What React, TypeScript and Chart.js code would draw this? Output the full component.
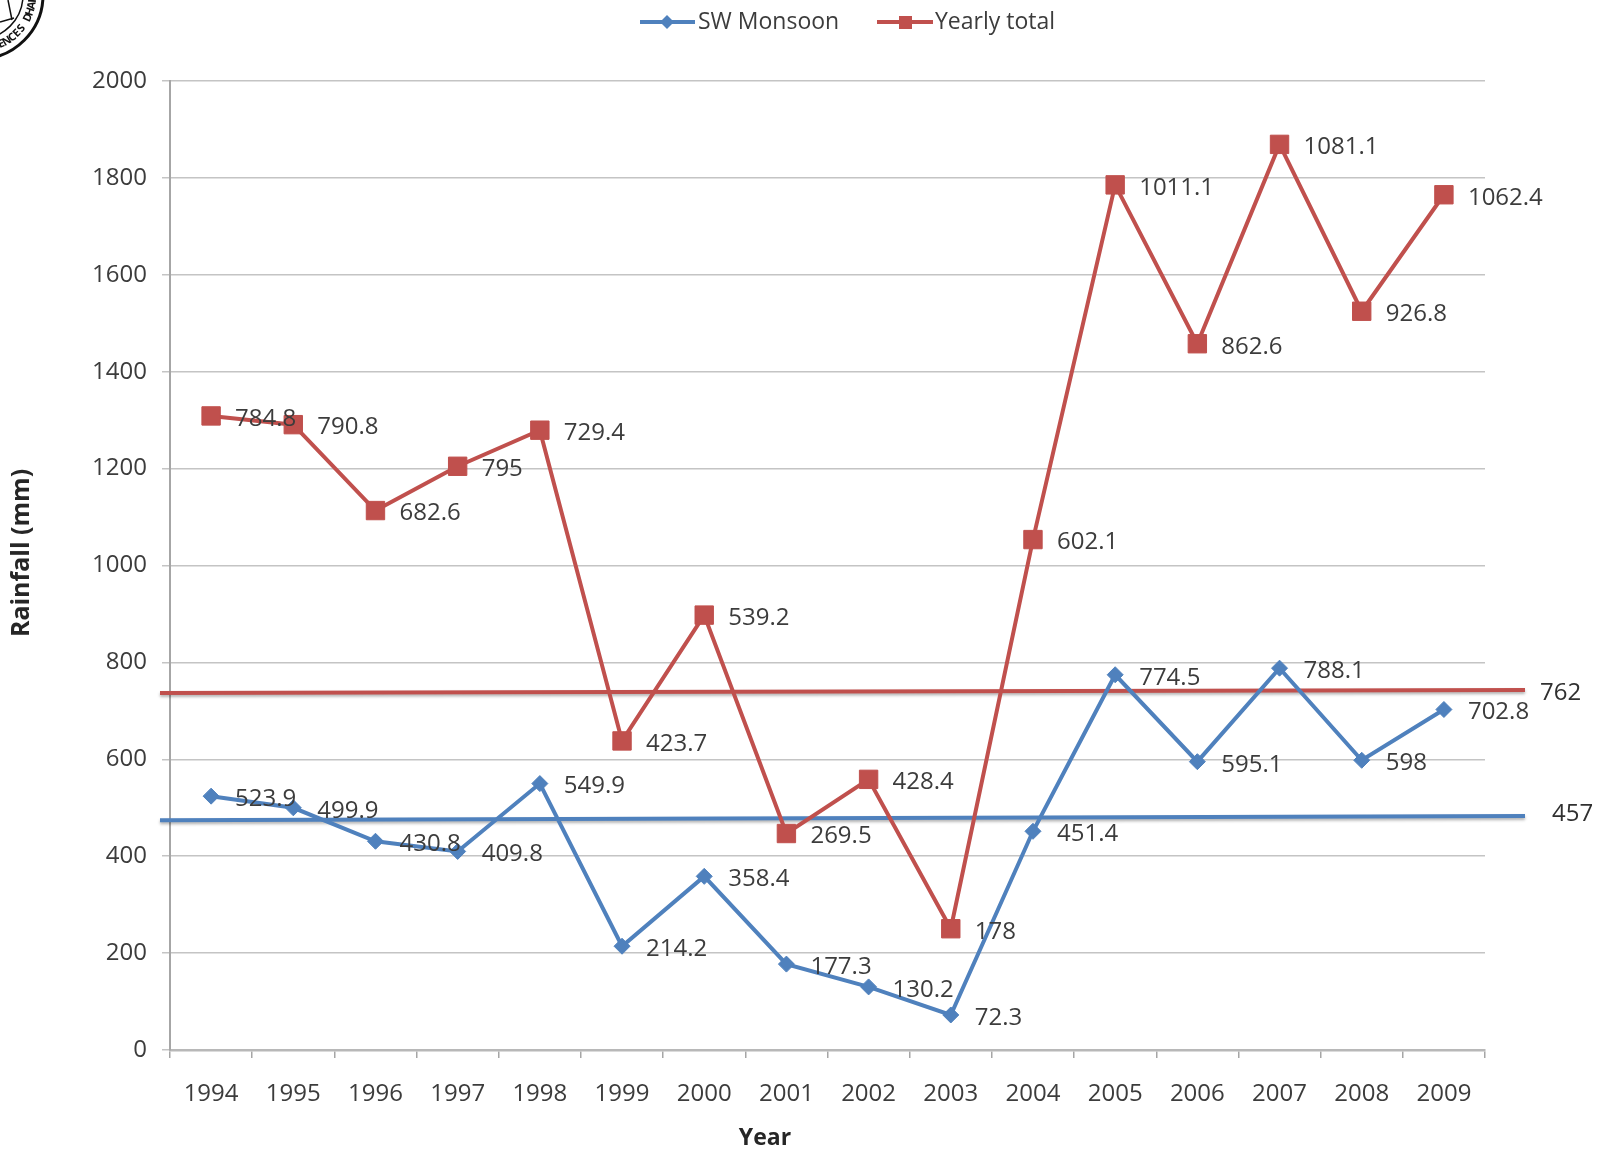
import React, { useEffect, useRef } from "react";
import { Chart, registerables } from "chart.js";

Chart.register(...registerables);

const years = ["1994", "1995", "1996", "1997", "1998", "1999", "2000", "2001", "2002", "2003", "2004", "2005", "2006", "2007", "2008", "2009"];
const swMonsoon = [523.9, 499.9, 430.8, 409.8, 549.9, 214.2, 358.4, 177.3, 130.2, 72.3, 451.4, 774.5, 595.1, 788.1, 598, 702.8];
const swLabels = ["523.9", "499.9", "430.8", "409.8", "549.9", "214.2", "358.4", "177.3", "130.2", "72.3", "451.4", "774.5", "595.1", "788.1", "598", "702.8"];
const yearlyTotal = [1308.7, 1290.7, 1113.4, 1204.8, 1279.3, 637.9, 897.6, 446.8, 558.6, 250.3, 1053.5, 1785.6, 1457.7, 1869.2, 1524.8, 1765.2];
const yearlyLabels = ["784.8", "790.8", "682.6", "795", "729.4", "423.7", "539.2", "269.5", "428.4", "178", "602.1", "1011.1", "862.6", "1081.1", "926.8", "1062.4"];
const meanRed = [737, 743];
const meanBlue = [474, 483];
const meanLabels = ["762", "457"];
const yTicks = [0, 200, 400, 600, 800, 1000, 1200, 1400, 1600, 1800, 2000];

const RED = "#C0504D";
const BLUE = "#4F81BD";
const TEXT = "#3c3c3c";
const FONT = "'Open Sans', sans-serif";

const overlayPlugin = {
  id: "overlay",
  beforeDatasetsDraw(chart: any) {
    const ctx = chart.ctx;
    const y = chart.scales.y;
    const lines = [
      { v: meanRed, c: RED, label: meanLabels[0], dx: 15, dy: 3 },
      { v: meanBlue, c: BLUE, label: meanLabels[1], dx: 27, dy: -2 },
    ];
    ctx.save();
    for (const l of lines) {
      const x0 = 160;
      const x1 = 1525;
      ctx.save();
      ctx.shadowColor = "rgba(0,0,0,0.3)";
      ctx.shadowOffsetY = 2;
      ctx.shadowBlur = 3;
      ctx.strokeStyle = l.c;
      ctx.lineWidth = 4;
      ctx.beginPath();
      ctx.moveTo(x0, y.getPixelForValue(l.v[0]));
      ctx.lineTo(x1, y.getPixelForValue(l.v[1]));
      ctx.stroke();
      ctx.restore();
      ctx.fillStyle = "#303030";
      ctx.font = `24px ${FONT}`;
      ctx.textAlign = "left";
      ctx.textBaseline = "middle";
      ctx.fillText(l.label, x1 + l.dx, y.getPixelForValue(l.v[1]) + l.dy);
    }
    ctx.restore();
  },
  afterDatasetsDraw(chart: any) {
    const ctx = chart.ctx;
    ctx.save();
    ctx.font = `24px ${FONT}`;
    ctx.fillStyle = TEXT;
    ctx.textAlign = "left";
    ctx.textBaseline = "middle";
    const sets = [swLabels, yearlyLabels];
    sets.forEach((labels, di) => {
      const meta = chart.getDatasetMeta(di);
      meta.data.forEach((pt: any, i: number) => {
        ctx.fillText(labels[i], pt.x + 24, pt.y + 3);
      });
    });
    ctx.restore();
  },
  afterDraw(chart: any) {
    const ctx = chart.ctx;
    ctx.save();
    // legend
    const ly = 22;
    ctx.lineWidth = 4;
    ctx.strokeStyle = BLUE;
    ctx.beginPath();
    ctx.moveTo(640, ly);
    ctx.lineTo(695, ly);
    ctx.stroke();
    ctx.fillStyle = BLUE;
    ctx.beginPath();
    ctx.moveTo(667, ly - 7);
    ctx.lineTo(674, ly);
    ctx.lineTo(667, ly + 7);
    ctx.lineTo(660, ly);
    ctx.closePath();
    ctx.fill();
    ctx.strokeStyle = RED;
    ctx.beginPath();
    ctx.moveTo(877, ly);
    ctx.lineTo(933, ly);
    ctx.stroke();
    ctx.fillStyle = RED;
    ctx.fillRect(899, ly - 6, 13, 13);
    ctx.fillStyle = TEXT;
    ctx.font = `23px ${FONT}`;
    ctx.textAlign = "left";
    ctx.textBaseline = "middle";
    ctx.fillText("SW Monsoon", 698, ly);
    ctx.fillText("Yearly total", 935, ly);

    // axis titles
    ctx.fillStyle = "#262626";
    ctx.font = `bold 23px ${FONT}`;
    ctx.textAlign = "center";
    ctx.fillText("Year", 765, 1138);
    ctx.save();
    ctx.translate(22, 553);
    ctx.rotate(-Math.PI / 2);
    ctx.font = `bold 25px ${FONT}`;
    ctx.fillText("Rainfall (mm)", 0, 0);
    ctx.restore();

    // partial seal in the corner
    const cx = -21;
    const cy = -5;
    ctx.strokeStyle = "#111";
    ctx.lineWidth = 3;
    ctx.beginPath();
    ctx.arc(cx, cy, 64, 0, Math.PI * 2);
    ctx.stroke();
    ctx.lineWidth = 1.5;
    ctx.beginPath();
    ctx.arc(cx, cy, 44, 0, Math.PI * 2);
    ctx.stroke();
    ctx.beginPath();
    ctx.moveTo(8, 0);
    ctx.lineTo(12, 20);
    ctx.moveTo(0, 22);
    ctx.lineTo(14, 18);
    ctx.stroke();
    ctx.fillStyle = "#111";
    ctx.font = `bold 11px ${FONT}`;
    ctx.textAlign = "center";
    ctx.textBaseline = "middle";
    const txt = "SCIENCES DHAR";
    let ang = (86 * Math.PI) / 180;
    const step = (6.8 * Math.PI) / 180;
    for (const ch of txt) {
      const px = cx + Math.cos(ang) * 54;
      const py = cy + Math.sin(ang) * 54;
      ctx.save();
      ctx.translate(px, py);
      ctx.rotate(ang - Math.PI / 2);
      ctx.fillText(ch, 0, 0);
      ctx.restore();
      ang -= step;
    }
    ctx.restore();
  },
};

export default function App() {
  const ref = useRef<HTMLCanvasElement | null>(null);
  useEffect(() => {
    if (!ref.current) return;
    const chart = new Chart(ref.current, {
      type: "line",
      data: {
        labels: years,
        datasets: [
          {
            label: "SW Monsoon",
            data: swMonsoon,
            borderColor: BLUE,
            backgroundColor: BLUE,
            borderWidth: 4,
            pointStyle: "rectRot",
            pointRadius: 8,
            pointBorderWidth: 1,
            pointBackgroundColor: BLUE,
            pointBorderColor: BLUE,
            tension: 0,
          },
          {
            label: "Yearly total",
            data: yearlyTotal,
            borderColor: RED,
            backgroundColor: RED,
            borderWidth: 4,
            pointStyle: "rect",
            pointRadius: 13,
            pointBorderWidth: 1,
            pointBackgroundColor: RED,
            pointBorderColor: RED,
            tension: 0,
          },
        ],
      },
      options: {
        animation: false,
        responsive: true,
        maintainAspectRatio: false,
        layout: { padding: { top: 81, right: 120, left: 0, bottom: 0 } },
        plugins: {
          legend: { display: false },
          tooltip: { enabled: false },
        },
        scales: {
          x: {
            type: "category",
            offset: true,
            grid: {
              offset: true,
              drawOnChartArea: false,
              drawTicks: true,
              tickLength: 8,
              color: "#a6a6a6",
              lineWidth: 1.5,
            },
            border: { color: "#b8b8b8", width: 2.5 },
            ticks: {
              font: { family: FONT, size: 24 },
              color: TEXT,
              padding: 22,
              maxRotation: 0,
              autoSkip: false,
            },
            afterFit: (s: any) => {
              s.height = 101;
            },
          },
          y: {
            min: 0,
            max: 2000,
            afterBuildTicks: (s: any) => {
              s.ticks = yTicks.map((v) => ({ value: v }));
            },
            grid: {
              color: "#c4c4c4",
              lineWidth: 1.5,
              drawTicks: true,
              tickLength: 8,
            },
            border: { color: "#a6a6a6", width: 2 },
            ticks: {
              font: { family: FONT, size: 24 },
              color: TEXT,
              padding: 15,
              callback: (v: any) => String(v),
            },
            afterFit: (s: any) => {
              s.width = 170;
            },
          },
        },
      },
      plugins: [overlayPlugin],
    } as any);
    return () => chart.destroy();
  }, []);
  return (
    <div style={{ position: "fixed", left: 0, top: 0, width: 1605, height: 1151, background: "#fff" }}>
      <canvas ref={ref} />
    </div>
  );
}
